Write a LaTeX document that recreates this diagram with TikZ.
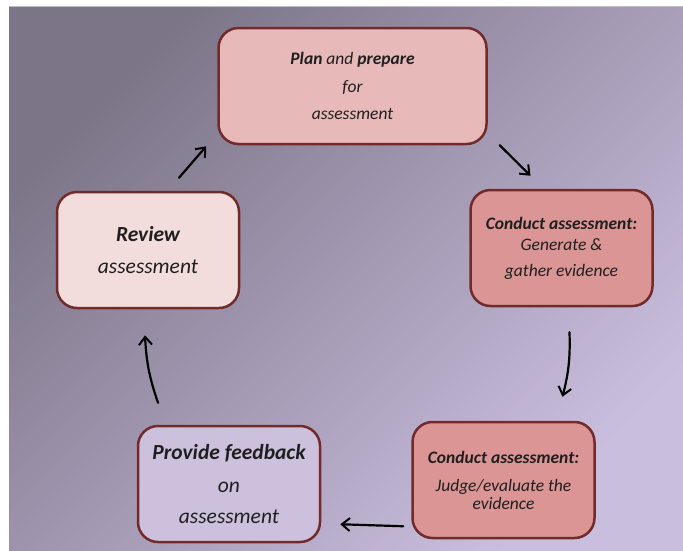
\documentclass[tikz,border=0pt]{standalone}
\usepackage{fontspec}
\setmainfont{Carlito}
\usepackage{xcolor}
\usetikzlibrary{arrows.meta, calc}
\definecolor{bgdark}{HTML}{7C7487}
\definecolor{bglight}{HTML}{CABEDE}
\definecolor{boxline}{HTML}{722B2B}
\definecolor{planfill}{HTML}{E8B9B9}
\definecolor{conductfill}{HTML}{DC9595}
\definecolor{reviewfill}{HTML}{F2DCDC}
\definecolor{feedbackfill}{HTML}{CCC0DD}
\tikzset{
    stage/.style={rectangle, draw=boxline, line width=2.5pt, rounded corners=20pt, minimum width=182pt, minimum height=116pt, align=center, text=black!88, inner sep=0pt},
    small/.style={font=\fontsize{17.5}{21}\selectfont\itshape},
    large/.style={font=\fontsize{21.5}{25.8}\selectfont\itshape},
    arrow/.style={-{Straight Barb[length=8pt, width=13pt, line width=2pt]}, line width=2.2pt, line cap=round}
}

\begin{document}
\begin{tikzpicture}[x=1pt, y=-1pt]
    \useasboundingbox (0,0) rectangle (683,550);
    \fill[white] (0,0) rectangle (683,550);
    \shade[top color=bgdark, bottom color=bglight, shading angle=45] (9,6) rectangle (683,550);
    \draw[black!25, line width=1pt] (9,6.5) -- (683,6.5);
    \node[stage, small, fill=planfill, minimum width=268pt] (plan) at (352.5,86) {\textbf{Plan} and \textbf{prepare}\\[6.5pt] for\\[6.5pt] assessment};
    \node[stage, small, fill=conductfill] (gather) at (561.5,248) {\textbf{Conduct assessment:}\\[0pt] Generate \&\\[5pt] gather evidence};
    \node[stage, small, fill=conductfill] (judge) at (503.5,480) {\textbf{Conduct assessment:}\\[7pt] Judge/evaluate the\\[-3pt] evidence};
    \node[stage, large, fill=feedbackfill] (feedback) at (229,484) {\textbf{Provide feedback}\\[8pt] on\\[5pt] assessment};
    \node[stage, large, fill=reviewfill] (review) at (148,250) {\textbf{Review}\\[7pt] assessment};
    \draw[arrow] ($(review.north)+(31,-13)$) -- ($(plan.south west)+(-11,1)$);
    \draw[arrow] ($(plan.south east)+(12,0)$) -- ($(gather.north)+(-31,-13)$);
    \draw[arrow] ($(gather.south)+(8,25)$) to[bend left=8] ($(judge.north)+(59,-24)$);
    \draw[arrow] ($(judge.south west)+(-8,-13)$) -- ($(feedback.south east)+(19,-19)$);
    \draw[arrow] ($(feedback.north)+(-71,-22)$) to[bend left=8] ($(review.south)+(-3,26)$);
\end{tikzpicture}
\end{document}
